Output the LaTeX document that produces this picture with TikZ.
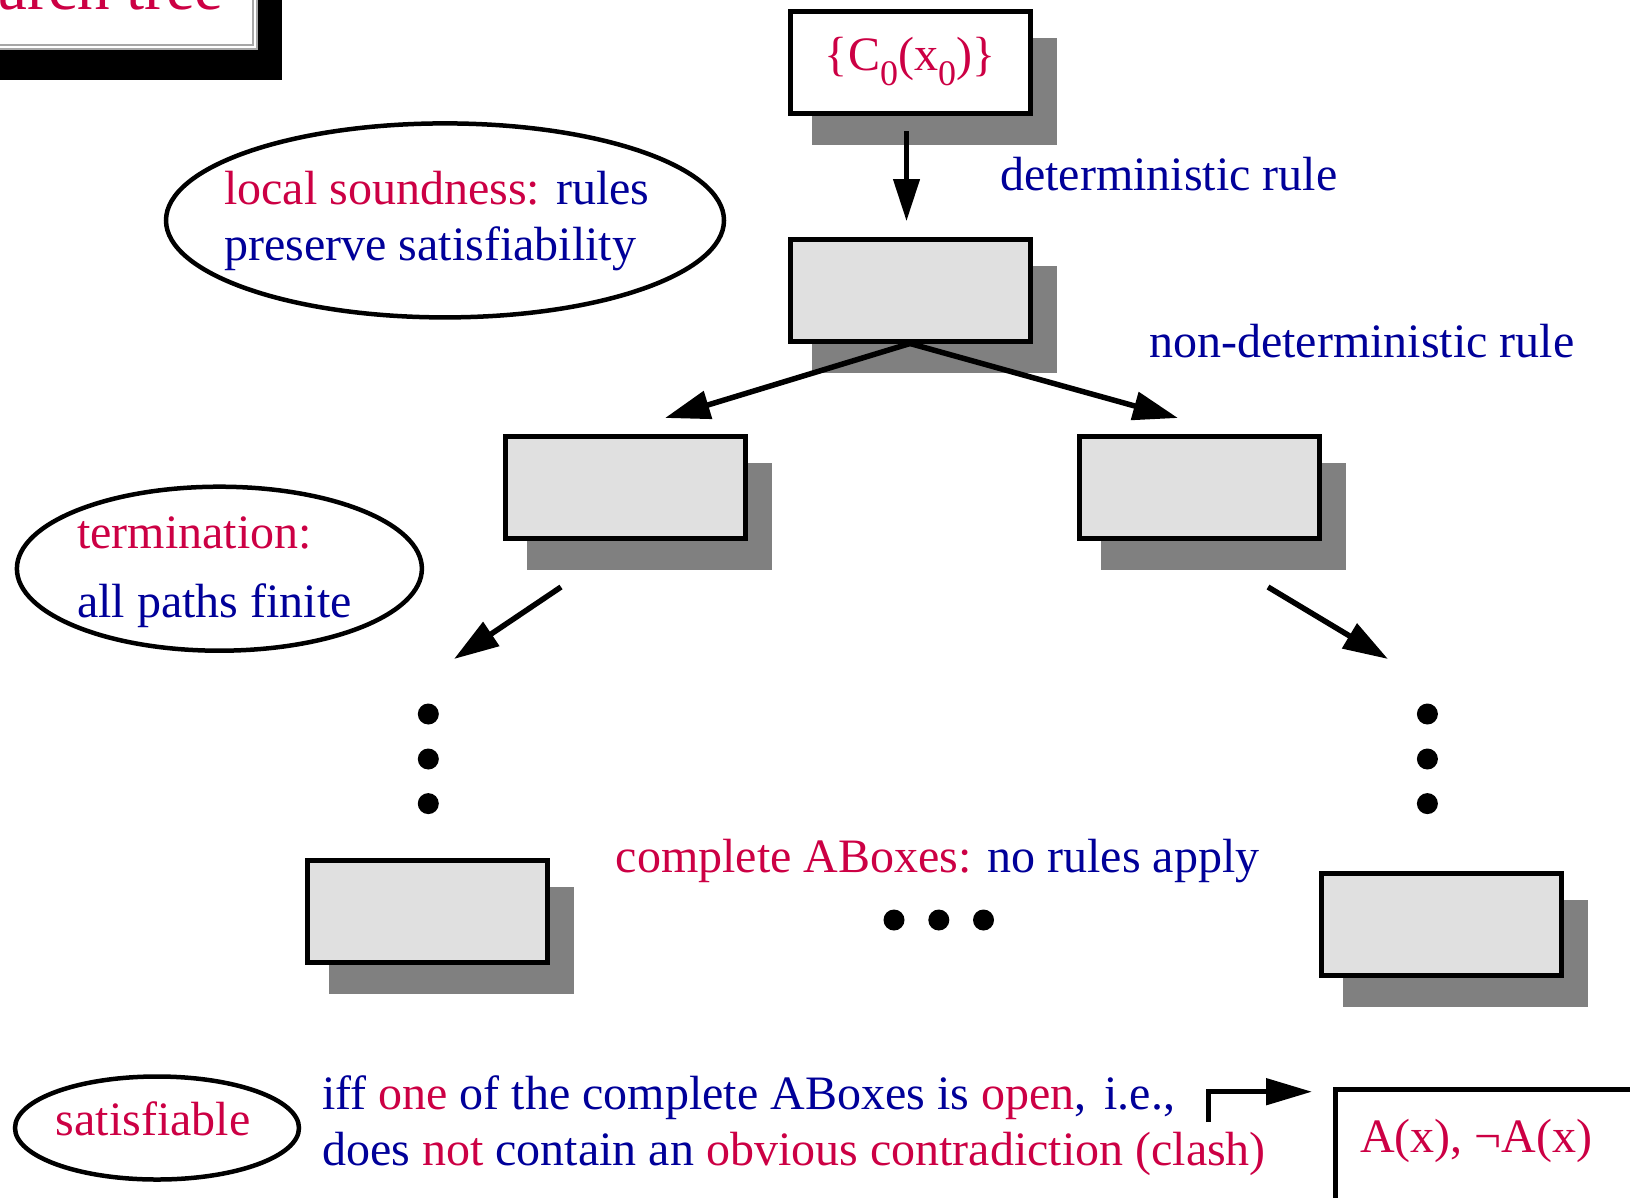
\documentclass[tikz,border=0pt]{standalone}
\usepackage{fontspec}
\setmainfont{Liberation Serif}
\usetikzlibrary{arrows.meta,shapes.geometric,calc}

\definecolor{hired}{HTML}{CC0044}
\definecolor{hiblue}{HTML}{000099}
\definecolor{shade}{HTML}{808080}
\definecolor{boxfill}{HTML}{E0E0E0}

\newcommand\rd[1]{\textcolor{hired}{#1}}
\newcommand\bl[1]{\textcolor{hiblue}{#1}}
\newcommand\subz{\raisebox{-15pt}{\fontsize{36}{36}\selectfont 0}}

\tikzset{
  stbox/.style={draw=black, line width=5pt, minimum width=240pt, minimum height=102pt,
    inner sep=0pt, fill=boxfill},
  shadowbox/.style={fill=shade, minimum width=245pt, minimum height=107pt, inner sep=0pt},
  oval/.style={draw=black, ellipse, line width=4.5pt, inner sep=0pt},
  txt/.style={anchor=base west, inner sep=0pt, font=\fontsize{48}{56}\selectfont},
  conn/.style={line width=5.5pt, -{Triangle[length=45pt,width=28pt]}},
  dotmark/.style={circle, fill=black, minimum size=21pt, inner sep=0pt},
}

\begin{document}
\begin{tikzpicture}[x=1pt,y=-1pt]
\useasboundingbox (0,0) rectangle (1630,1197);
\clip (0,0) rectangle (1630,1197);

% title frame in the corner
\fill[black] (-20,-20) rectangle (282,80);
\fill[white, draw=gray!70, line width=1.5pt] (-20,-20) rectangle (257,49);
\draw[gray!70, line width=1.5pt] (-20,45) -| (253,-20);
\node[anchor=base east, inner sep=0pt, font=\fontsize{65}{65}\selectfont, text=hired] (title) at (224,9) {Search tree};

% shadows of the ABox nodes
\node[shadowbox] (s0) at (934,91) {};
\node[shadowbox] (s1) at (934,319) {};
\node[shadowbox] (s2) at (649,516.6) {};
\node[shadowbox] (s3) at (1223,516.6) {};
\node[shadowbox] (s4) at (451.8,940.2) {};
\node[shadowbox] (s5) at (1465.4,953.7) {};

% ABox nodes of the tree
\node[stbox, fill=white, font=\fontsize{48}{56}\selectfont, text=hired] (root) at (910,62)
  {\{C\subz(x\subz)\}};
\node[stbox] (n1) at (910,290) {};
\node[stbox] (n2) at (625.3,487.6) {};
\node[stbox] (n3) at (1199.2,487.6) {};
\node[stbox] (n4) at (427.8,911.2) {};
\node[stbox] (n5) at (1441.4,924.7) {};

% connectors
\coordinate (r0) at (906.5,131);
\coordinate (r1) at (906.5,221);
\draw[line width=4.5pt, -{Triangle[length=42pt,width=26pt]}] (r0) -- (r1);
\coordinate (l1) at (665,418);
\coordinate (l2) at (1178,418);
\draw[conn] (n1.south) -- (l1);
\draw[conn] (n1.south) -- (l2);
\coordinate (d1) at (561,587);
\coordinate (d2) at (454,659);
\draw[conn] (d1) -- (d2);
\coordinate (e1) at (1268,587);
\coordinate (e2) at (1388,659);
\draw[conn] (e1) -- (e2);

% elided levels
\node[dotmark] (v1) at (428.3,714) {};
\node[dotmark] (v2) at (428.3,759) {};
\node[dotmark] (v3) at (428.3,803.6) {};
\node[dotmark] (w1) at (1427.4,714) {};
\node[dotmark] (w2) at (1427.4,759) {};
\node[dotmark] (w3) at (1427.4,803.6) {};
\node[dotmark] (h1) at (894,920) {};
\node[dotmark] (h2) at (938.8,920) {};
\node[dotmark] (h3) at (983.5,920) {};

% rule labels
\node[txt, text=hiblue] (detlab) at (1000,190) {deterministic rule};
\node[txt, text=hiblue] (ndetlab) at (1149,357) {non-deterministic rule};
\node[txt] (complab) at (615.5,872) {\rd{complete ABoxes:} \bl{no rules apply}};

% property ovals
\node[oval, minimum width=558pt, minimum height=194pt] (sound) at (445,220.4) {};
\node[txt] (sound1) at (224,204) {\rd{local soundness:} \bl{rules}};
\node[txt, text=hiblue] (sound2) at (224,260) {preserve satisfiability};

\node[oval, minimum width=405pt, minimum height=164pt] (term) at (219.4,568.7) {};
\node[txt, text=hired] (term1) at (77,548) {termination:};
\node[txt, text=hiblue] (term2) at (77,617) {all paths finite};

\node[oval, minimum width=284pt, minimum height=103pt] (sat) at (157,1128) {};
\node[txt, anchor=base, text=hired] (sattxt) at (153,1135) {satisfiable};

% satisfiability criterion
\node[txt] (crit1) at (322,1109)
  {\bl{iff} \rd{one} \bl{of the complete ABoxes is} \rd{open}\bl{,\hspace{6pt} i.e.,}};
\node[txt] (crit2) at (322,1165)
  {\bl{does} \rd{not} \bl{contain an} \rd{obvious contradiction (clash)}};

% clash example
\node[draw=black, line width=5pt, anchor=north west, minimum width=400pt, minimum height=160pt,
  inner sep=0pt] (clash) at (1332.5,1087) {};
\node[txt, text=hired] (clashtxt) at (1360,1152) {A(x), ¬A(x)};
\coordinate (k0) at (1208,1122);
\coordinate (k1) at (1312,1091.7);
\draw[line width=5pt, -{Triangle[length=46pt,width=26pt]}] (k0) |- (k1);
\end{tikzpicture}
\end{document}
